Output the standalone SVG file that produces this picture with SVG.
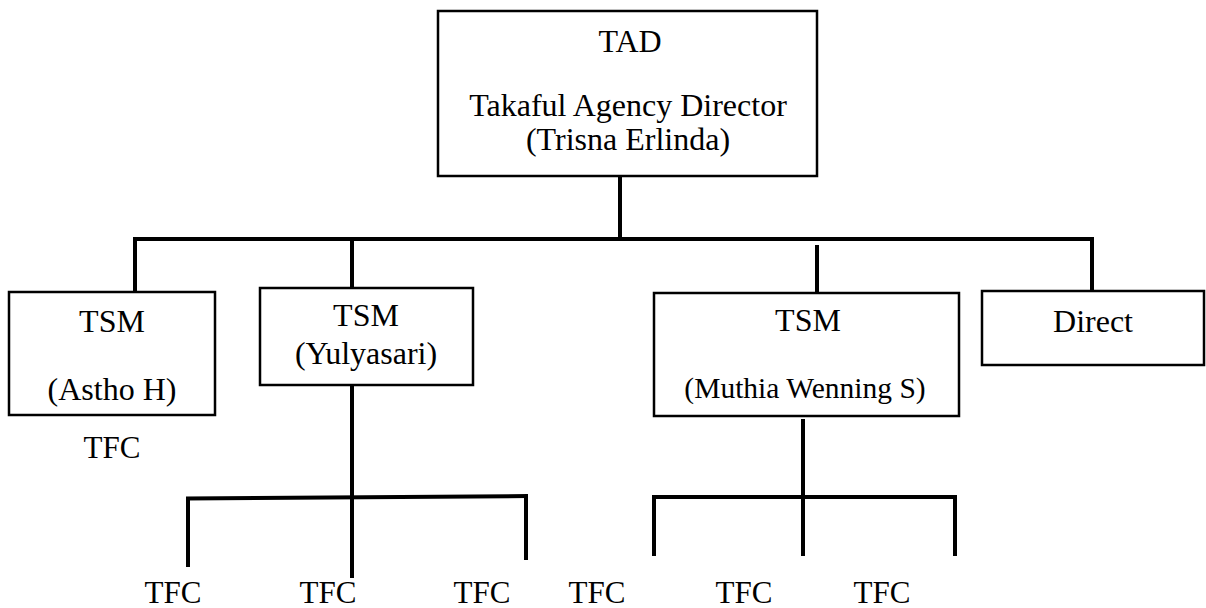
<svg xmlns="http://www.w3.org/2000/svg" width="1206" height="608" viewBox="0 0 1206 608">
<style>
.box{fill:#fff;stroke:#000;stroke-width:2.5}
.ln{stroke:#000;stroke-width:4;fill:none;stroke-linecap:butt}
text{font-family:"Liberation Serif","Times New Roman",serif;fill:#000;text-anchor:middle}
.t{font-size:32px}
.s{font-size:29.5px}
.f{font-size:31px}
</style>
<rect width="1206" height="608" fill="#fff"/>
<g id="connectors">
<line class="ln" x1="620" y1="176" x2="620" y2="239"/>
<line class="ln" x1="133" y1="239" x2="1094" y2="239"/>
<line class="ln" x1="135" y1="239" x2="135" y2="292"/>
<line class="ln" x1="352" y1="239" x2="352" y2="288"/>
<line class="ln" x1="817" y1="245" x2="817" y2="293"/>
<line class="ln" x1="1092" y1="239" x2="1092" y2="291"/>
<line class="ln" x1="352" y1="385" x2="352" y2="578"/>
<line class="ln" x1="186" y1="498.5" x2="528" y2="496"/>
<line class="ln" x1="188" y1="498" x2="188" y2="567"/>
<line class="ln" x1="526" y1="496" x2="526" y2="560"/>
<line class="ln" x1="803" y1="419" x2="803" y2="497"/>
<line class="ln" x1="652" y1="497" x2="957" y2="497"/>
<line class="ln" x1="654" y1="497" x2="654" y2="556"/>
<line class="ln" x1="803" y1="497" x2="803" y2="556"/>
<line class="ln" x1="955" y1="497" x2="955" y2="556"/>
</g>
<g id="tad">
<rect class="box" x="438" y="11" width="379" height="165"/>
<text class="t" x="630" y="52">TAD</text>
<text class="t" x="628" y="116">Takaful Agency Director</text>
<text class="t" x="628" y="150">(Trisna Erlinda)</text>
</g>
<g id="tsm-astho">
<rect class="box" x="9" y="292" width="206" height="123"/>
<text class="t" x="112" y="332">TSM</text>
<text class="t" x="112" y="400">(Astho H)</text>
</g>
<g id="tfc-astho">
<text class="f" x="112" y="458">TFC</text>
</g>
<g id="tsm-yulyasari">
<rect class="box" x="260" y="288" width="213" height="97"/>
<text class="t" x="366" y="326">TSM</text>
<text class="t" x="366" y="364">(Yulyasari)</text>
</g>
<g id="tsm-muthia">
<rect class="box" x="654" y="293" width="305" height="123"/>
<text class="t" x="808" y="331">TSM</text>
<text class="s" x="805" y="398">(Muthia Wenning S)</text>
</g>
<g id="direct">
<rect class="box" x="982" y="291" width="222" height="74"/>
<text class="t" x="1093" y="332">Direct</text>
</g>
<g id="tfc1"><text class="f" x="173" y="603">TFC</text></g>
<g id="tfc2"><text class="f" x="328" y="603">TFC</text></g>
<g id="tfc3"><text class="f" x="482" y="603">TFC</text></g>
<g id="tfc4"><text class="f" x="597" y="603">TFC</text></g>
<g id="tfc5"><text class="f" x="744" y="603">TFC</text></g>
<g id="tfc6"><text class="f" x="882" y="603">TFC</text></g>
</svg>
